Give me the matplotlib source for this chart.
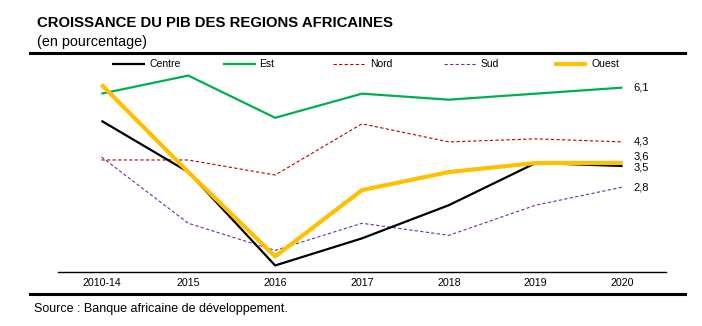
import matplotlib
matplotlib.use('Agg')
import matplotlib.pyplot as plt
from matplotlib.lines import Line2D

plt.rcParams['font.family'] = ['Liberation Sans', 'DejaVu Sans']

# --- donnees ---
years = ['2010-14', '2015', '2016', '2017', '2018', '2019', '2020']
centre = [5.0, 3.3, 0.2, 1.1, 2.2, 3.6, 3.5]
est = [5.9, 6.5, 5.1, 5.9, 5.7, 5.9, 6.1]
nord = [3.7, 3.7, 3.2, 4.9, 4.3, 4.4, 4.3]
sud = [3.8, 1.6, 0.7, 1.6, 1.2, 2.2, 2.8]
ouest = [6.2, 3.3, 0.5, 2.7, 3.3, 3.6, 3.6]

series = [
    ('Centre', centre, dict(color='black', lw=1.6, zorder=3)),
    ('Est', est, dict(color='#00B050', lw=1.6, zorder=3)),
    ('Nord', nord, dict(color='#C00000', lw=0.8, ls=(0, (3, 2)), zorder=2)),
    ('Sud', sud, dict(color='#7030A0', lw=0.8, ls=(0, (3, 2)), zorder=2)),
    ('Ouest', ouest, dict(color='#FFC000', lw=3.0, zorder=4)),
]
# decalage vertical (points) des etiquettes de fin
label_offsets = {'Centre': -1, 'Ouest': 4.5}

W, H = 702, 326
fig = plt.figure(figsize=(W / 100, H / 100), dpi=100)
ax = fig.add_axes([58 / W, 1 - 271.5 / H, (666 - 58) / W, (271.5 - 60.5) / H])

x = list(range(len(years)))
for name, vals, style in series:
    ax.plot(x, vals, label=name, solid_capstyle='butt', **style)
    ax.annotate(f"{vals[-1]:.1f}".replace('.', ','), xy=(x[-1], vals[-1]),
                xytext=(8, label_offsets.get(name, 0)), textcoords='offset points',
                va='center', ha='left', fontsize=8)

ax.set_xlim(-0.5, len(years) - 0.5)
ax.set_ylim(0, 7)
ax.set_xticks(x)
ax.set_xticklabels(years, fontsize=7.7)
ax.tick_params(axis='x', length=0, pad=5)
ax.set_yticks([])
for s in ['left', 'right', 'top']:
    ax.spines[s].set_visible(False)
ax.spines['bottom'].set_linewidth(1.0)

# legende a la maniere d'Excel (espacement regulier)
ly = 1 - 64 / H
for i, (name, vals, style) in enumerate(series):
    x0 = (112 + i * 110.5) / W
    st = {k: v for k, v in style.items() if k != 'zorder'}
    fig.add_artist(Line2D([x0, x0 + 33 / W], [ly, ly], transform=fig.transFigure,
                          solid_capstyle='butt', **st))
    fig.text(x0 + 37 / W, ly, name, fontsize=7.5, va='center', ha='left')

# titres et filets
fig.text(37 / W, 1 - 22.7 / H, 'CROISSANCE DU PIB DES REGIONS AFRICAINES',
         fontsize=10.7, fontweight='bold', va='center')
fig.text(37 / W, 1 - 41.7 / H, '(en pourcentage)', fontsize=10.4, va='center')
fig.add_artist(Line2D([30 / W, 685 / W], [1 - 52.7 / H] * 2, color='black', lw=2.2,
                      transform=fig.transFigure))
fig.add_artist(Line2D([30 / W, 685 / W], [1 - 294.3 / H] * 2, color='black', lw=2.2,
                      transform=fig.transFigure))
fig.text(34 / W, 1 - 309 / H, 'Source : Banque africaine de développement.',
         fontsize=9, va='center')

fig.savefig('out.png', dpi=100)
